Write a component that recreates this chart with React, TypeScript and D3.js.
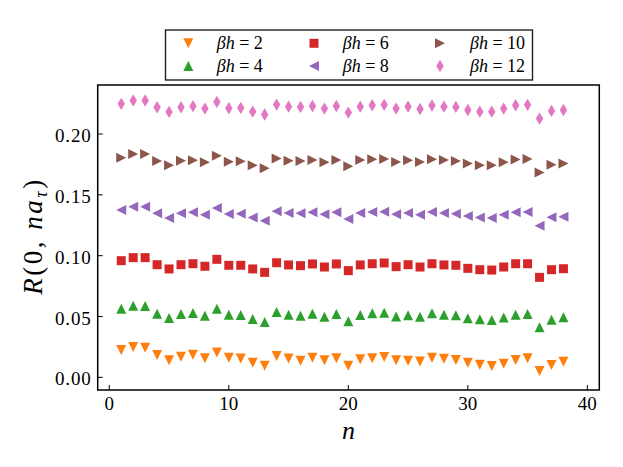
import * as React from "react";
import * as d3 from "d3";

// n values on the x axis
const nValues = [
  1, 2, 3, 4, 5, 6, 7, 8, 9, 10, 11, 12, 13, 14, 15, 16, 17, 18, 19, 20, 21,
  22, 23, 24, 25, 26, 27, 28, 29, 30, 31, 32, 33, 34, 35, 36, 37, 38,
];

const bh2 = [
  0.0224, 0.0249, 0.0244, 0.0183, 0.014, 0.017, 0.0186, 0.0156, 0.0205, 0.0162,
  0.0154, 0.012, 0.0096, 0.0175, 0.0154, 0.0137, 0.0162, 0.014, 0.0156, 0.0096,
  0.0148, 0.0156, 0.0167, 0.014, 0.0137, 0.0131, 0.0161, 0.0153, 0.0142, 0.012,
  0.0104, 0.0093, 0.0112, 0.0142, 0.0156, 0.0052, 0.0101, 0.0129,
];
const bh4 = [
  0.0564, 0.0589, 0.0586, 0.0523, 0.0488, 0.0521, 0.0529, 0.0507, 0.0564, 0.0515,
  0.0512, 0.0479, 0.0455, 0.0537, 0.0515, 0.0507, 0.0523, 0.0498, 0.0521, 0.0461,
  0.0512, 0.0526, 0.0531, 0.0501, 0.051, 0.0498, 0.0526, 0.0515, 0.051, 0.0485,
  0.0477, 0.0472, 0.0491, 0.0515, 0.0521, 0.0411, 0.0474, 0.0494,
];
const bh6 = [
  0.0959, 0.0984, 0.0984, 0.0926, 0.0891, 0.0926, 0.0934, 0.0913, 0.097, 0.0921,
  0.0921, 0.0891, 0.0863, 0.0942, 0.0924, 0.0918, 0.0932, 0.0907, 0.0932, 0.0877,
  0.0924, 0.0934, 0.094, 0.091, 0.0926, 0.0907, 0.0934, 0.0924, 0.0921, 0.0896,
  0.0885, 0.0882, 0.0907, 0.0934, 0.0934, 0.0822, 0.0885, 0.0893,
];
const bh8 = [
  0.1376, 0.1403, 0.1403, 0.1349, 0.131, 0.1349, 0.1357, 0.1337, 0.1392, 0.1343,
  0.1345, 0.1313, 0.1288, 0.1365, 0.1351, 0.1349, 0.1357, 0.134, 0.1357, 0.1302,
  0.1351, 0.1359, 0.1362, 0.134, 0.1351, 0.1337, 0.1359, 0.1351, 0.1345, 0.1326,
  0.1313, 0.131, 0.1337, 0.1357, 0.1359, 0.1247, 0.1316, 0.1321,
];
const bh10 = [
  0.1806, 0.1836, 0.1836, 0.1779, 0.1743, 0.1781, 0.1784, 0.1768, 0.1822, 0.1773,
  0.1776, 0.1743, 0.1719, 0.1798, 0.1781, 0.1779, 0.1787, 0.1768, 0.1787, 0.1735,
  0.1787, 0.1793, 0.1795, 0.1771, 0.1784, 0.1771, 0.1793, 0.1787, 0.1779, 0.1757,
  0.1743, 0.1743, 0.1768, 0.179, 0.1795, 0.1683, 0.1748, 0.1757,
];
const bh12 = [
  0.2248, 0.2275, 0.2275, 0.222, 0.2182, 0.222, 0.2229, 0.2209, 0.2264, 0.2212,
  0.2215, 0.2184, 0.216, 0.2242, 0.2225, 0.2223, 0.2231, 0.2209, 0.2231, 0.2176,
  0.2225, 0.2237, 0.224, 0.2209, 0.2225, 0.2206, 0.2235, 0.2225, 0.2223, 0.2198,
  0.2184, 0.2184, 0.2209, 0.2237, 0.224, 0.2127, 0.219, 0.2198,
];

const seriesLabels = ["2", "4", "6", "8", "10", "12"];
const seriesValues = [bh2, bh4, bh6, bh8, bh10, bh12];
const seriesColors = ["#ff7f0e", "#2ca02c", "#d62728", "#9467bd", "#8c564b", "#e377c2"];
const seriesMarkers = ["down", "up", "square", "left", "right", "diamond"];

const xTicks = [0, 10, 20, 30, 40];
const yTicks = [0, 0.05, 0.1, 0.15, 0.2];

// marker outlines centred at 0,0
const markerPath = (kind: string) => {
  switch (kind) {
    case "down":
      return "M0,5L-5,-5L5,-5Z";
    case "up":
      return "M0,-5L-5,5L5,5Z";
    case "left":
      return "M-5,0L5,-5L5,5Z";
    case "right":
      return "M5,0L-5,-5L-5,5Z";
    case "square":
      return "M-4.5,-4.5h9v9h-9Z";
    default:
      return "M0,-6.2L3.7,0L0,6.2L-3.7,0Z";
  }
};

const W = 623;
const H = 467;
const frame = { left: 97.7, right: 599.3, top: 85, bottom: 390 };
const FONT = "Liberation Serif, DejaVu Serif, serif";

const Chart = () => {
  const svgRef = React.useRef<SVGSVGElement>(null);

  React.useEffect(() => {
    const svg = d3.select(svgRef.current);
    svg.selectAll("*").remove();
    svg.style("font-family", FONT);

    const x = d3.scaleLinear().domain([-0.97, 41.0]).range([frame.left, frame.right]);
    const y = d3.scaleLinear().domain([-0.0104, 0.2403]).range([frame.bottom, frame.top]);

    svg.append("rect").attr("width", W).attr("height", H).attr("fill", "#fff");

    // points
    seriesValues.forEach((vals, si) => {
      svg
        .append("g")
        .selectAll("path")
        .data(vals)
        .enter()
        .append("path")
        .attr("d", markerPath(seriesMarkers[si]))
        .attr("transform", (d, i) => `translate(${x(nValues[i])},${y(d)})`)
        .attr("fill", seriesColors[si]);
    });

    // ticks (pointing inward)
    const axis = svg.append("g").attr("stroke", "#000").attr("stroke-width", 1);
    xTicks.forEach((t) => {
      axis
        .append("line")
        .attr("x1", x(t))
        .attr("x2", x(t))
        .attr("y1", frame.bottom)
        .attr("y2", frame.bottom - 5);
    });
    yTicks.forEach((t) => {
      axis
        .append("line")
        .attr("x1", frame.left)
        .attr("x2", frame.left + 5)
        .attr("y1", y(t))
        .attr("y2", y(t));
    });

    svg
      .append("rect")
      .attr("x", frame.left)
      .attr("y", frame.top)
      .attr("width", frame.right - frame.left)
      .attr("height", frame.bottom - frame.top)
      .attr("fill", "none")
      .attr("stroke", "#000")
      .attr("stroke-width", 1.5);

    // tick labels
    svg
      .append("g")
      .selectAll("text")
      .data(xTicks)
      .enter()
      .append("text")
      .attr("x", (d) => x(d))
      .attr("y", 410)
      .attr("text-anchor", "middle")
      .attr("font-size", 19)
      .text((d) => d);

    svg
      .append("g")
      .selectAll("text")
      .data(yTicks)
      .enter()
      .append("text")
      .attr("x", 91.5)
      .attr("y", (d) => y(d) + 8)
      .attr("text-anchor", "end")
      .attr("font-size", 19)
      .attr("letter-spacing", 0.8)
      .text((d) => d.toFixed(2));

    // axis titles
    svg
      .append("text")
      .attr("x", 348.5)
      .attr("y", 438.5)
      .attr("text-anchor", "middle")
      .attr("font-style", "italic")
      .attr("font-size", 26)
      .text("n");

    const yl = svg
      .append("text")
      .attr("transform", "translate(42,236) rotate(-90)")
      .attr("text-anchor", "middle")
      .attr("font-size", 27)
      .attr("letter-spacing", 2.5);
    yl.append("tspan").attr("font-style", "italic").text("R");
    yl.append("tspan").text("(0, ");
    yl.append("tspan").attr("font-style", "italic").text("na");
    yl.append("tspan")
      .attr("font-style", "italic")
      .attr("font-size", 18)
      .attr("dy", 5)
      .text("τ");
    yl.append("tspan").attr("dy", -5).text(")");

    // legend
    svg
      .append("rect")
      .attr("x", 165.5)
      .attr("y", 30)
      .attr("width", 367)
      .attr("height", 50)
      .attr("fill", "#fff")
      .attr("stroke", "#222")
      .attr("stroke-width", 1.4);

    const colMarker = [188.3, 314, 440];
    const colText = [216.7, 342.7, 470];
    const rowY = [43.3, 66];
    seriesLabels.forEach((lab, i) => {
      const col = Math.floor(i / 2);
      const row = i % 2;
      svg
        .append("path")
        .attr("d", markerPath(seriesMarkers[i]))
        .attr("transform", `translate(${colMarker[col]},${rowY[row]})`)
        .attr("fill", seriesColors[i]);
      const t = svg
        .append("text")
        .attr("x", colText[col])
        .attr("y", rowY[row] + 6)
        .attr("font-size", 18);
      t.append("tspan").attr("font-style", "italic").text("βh");
      t.append("tspan").text(` = ${lab}`);
    });
  }, []);

  return (
    <svg
      ref={svgRef}
      width={W}
      height={H}
      style={{ position: "absolute", left: 0, top: 0 }}
    />
  );
};

export default function App() {
  return <Chart />;
}
